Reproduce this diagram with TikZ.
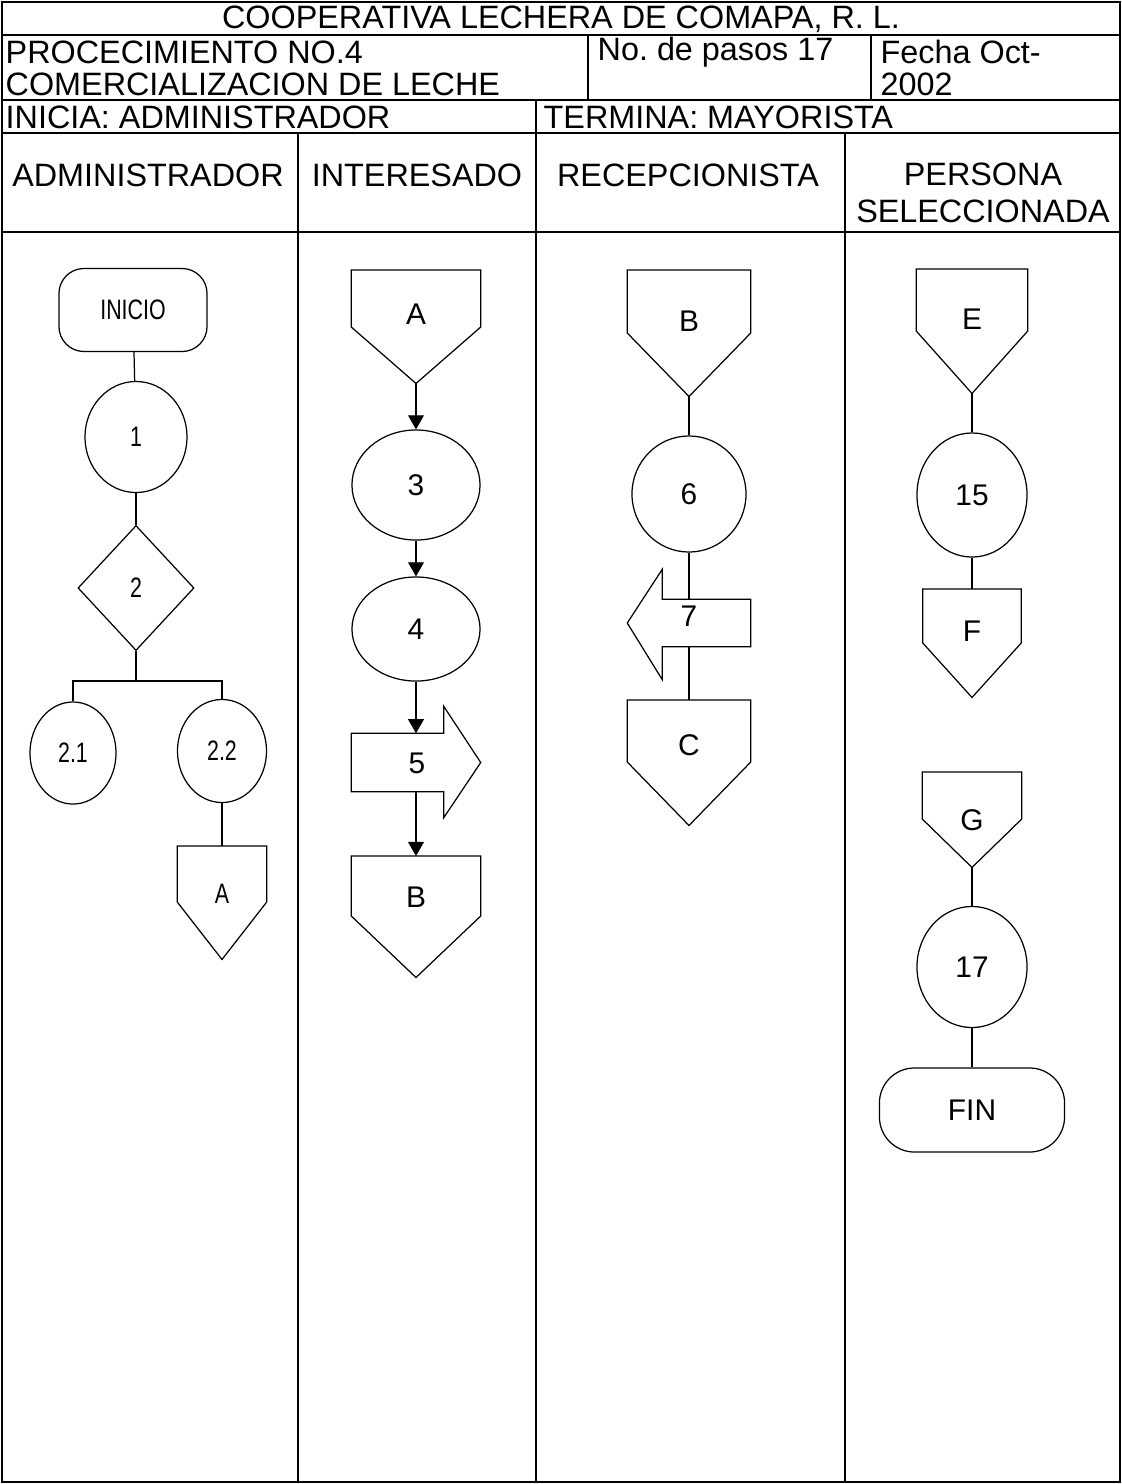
\documentclass[tikz,border=0pt]{standalone}
\usepackage{fontspec}
\usepackage{graphicx}
\setmainfont{Liberation Sans}
\usetikzlibrary{shapes.geometric,arrows.meta,calc}
\frenchspacing
\newcommand{\nar}[1]{\scalebox{0.76}[1]{#1}}

\begin{document}
\begin{tikzpicture}[x=0.01cm, y=-0.01cm,
    grid/.style={line width=0.6pt},
    shp/.style={draw, line width=0.35pt},
    proc/.style={shp, ellipse, inner sep=0pt},
    term/.style={shp, rectangle, rounded corners=0.25cm, inner sep=0pt},
    con/.style={rectangle, inner sep=0pt, anchor=north, text depth=7pt},
    flow/.style={line width=0.35pt},
    arr/.style={flow, -{Triangle[length=4pt,width=4.5pt]}},
    hd/.style={font=\fontsize{9.2}{10.5}\selectfont, inner sep=0pt},
    sm/.style={font=\fontsize{8}{9}\selectfont},
    lb/.style={font=\fontsize{8.5}{10}\selectfont}]
    \useasboundingbox (0,0) rectangle (1122,1484);
    % table
    \draw[grid] (2,2) rectangle (1120,1482);
    \draw[grid] (2,35) -- (1120,35);
    \draw[grid] (2,100) -- (1120,100);
    \draw[grid] (2,133) -- (1120,133);
    \draw[grid] (2,232) -- (1120,232);
    \draw[grid] (588,35) -- (588,100);
    \draw[grid] (871,35) -- (871,100);
    \draw[grid] (536,100) -- (536,1482);
    \draw[grid] (298,133) -- (298,1482);
    \draw[grid] (845,133) -- (845,1482);
    \node (title) [hd] at (561,19) {COOPERATIVA LECHERA DE COMAPA, R. L.};
    \node (hproc) [hd, anchor=west] at (5,52) {PROCECIMIENTO NO.4};
    \node (hcom) [hd, anchor=west] at (5,84) {COMERCIALIZACION DE LECHE};
    \node (hpasos) [hd, anchor=west] at (597,52) {No. de pasos 17};
    \node (hfecha) [hd, anchor=west] at (880,52) {Fecha Oct-};
    \node (hyear) [hd, anchor=west] at (880,84) {2002};
    \node (hini) [hd, anchor=west] at (5,117) {INICIA: ADMINISTRADOR};
    \node (hter) [hd, anchor=west] at (543,117) {TERMINA: MAYORISTA};
    \node (ladm) [hd] at (148,175) {ADMINISTRADOR};
    \node (lint) [hd] at (417,175) {INTERESADO};
    \node (lrec) [hd] at (688,175) {RECEPCIONISTA};
    \node (lper) [hd, align=center] at (983,193) {PERSONA\\SELECCIONADA};

    % administrador
    \node (inicio) [term, sm, minimum width=1.48cm, minimum height=0.83cm] at (133,310) {\nar{INICIO}};
    \node (p1) [proc, sm, minimum width=1.02cm, minimum height=1.11cm] at (136,437) {\nar{1}};
    \node (d2) [shp, diamond, sm, inner sep=0pt, minimum width=1.16cm, minimum height=1.25cm] at (136,588) {\nar{2}};
    \coordinate (split) at (136,681);
    \node (p21) [proc, sm, minimum width=0.86cm, minimum height=1.02cm] at (73,753) {\nar{2.1}};
    \node (p22) [proc, sm, minimum width=0.89cm, minimum height=1.03cm] at (222,751) {\nar{2.2}};
    \node (ca1) [con, sm, minimum width=0.88cm, minimum height=1.12cm, text depth=5pt] at (222,846) {\nar{A}};
    \draw[shp] (ca1.north west) -- (ca1.north east) -- ++(0,56) -- (ca1.south) -- ($(ca1.north west)+(0,56)$) -- cycle;
    \draw[flow] (inicio) -- (p1);
    \draw[flow] (p1) -- (d2);
    \draw[flow] (d2) -- (split);
    \draw[flow] (split) -| (p21);
    \draw[flow] (split) -| (p22);
    \draw[flow] (p22) -- (ca1);

    % interesado
    \node (ca2) [con, lb, minimum width=1.28cm, minimum height=1.12cm] at (416,270) {A};
    \draw[shp] (ca2.north west) -- (ca2.north east) -- ++(0,57) -- (ca2.south) -- ($(ca2.north west)+(0,57)$) -- cycle;
    \node (p3) [proc, lb, minimum width=1.28cm, minimum height=1.10cm] at (416,485) {3};
    \node (p4) [proc, lb, minimum width=1.28cm, minimum height=1.04cm] at (416,629) {4};
    \node (a5) [inner sep=0pt, minimum width=0.91cm, minimum height=0.57cm] at (397.5,762.5) {};
    \draw[shp] (a5.north west) -- (a5.north east) -- ++(0,-27) -- ($(a5.east)+(37,0)$) -- ($(a5.south east)+(0,26)$) -- (a5.south east) -- (a5.south west) -- cycle;
    \node (t5) [lb] at (417,763) {5};
    \node (cb2) [con, lb, minimum width=1.28cm, minimum height=1.20cm, text depth=11pt] at (416,856) {B};
    \draw[shp] (cb2.north west) -- (cb2.north east) -- ++(0,60) -- (cb2.south) -- ($(cb2.north west)+(0,60)$) -- cycle;
    \draw[arr] (ca2) -- (p3);
    \draw[arr] (p3) -- (p4);
    \draw[arr] (p4) -- (p4.south |- a5.north);
    \draw[arr] (p4.south |- a5.south) -- (cb2);

    % recepcionista
    \node (cb3) [con, lb, minimum width=1.22cm, minimum height=1.25cm] at (689,270) {B};
    \draw[shp] (cb3.north west) -- (cb3.north east) -- ++(0,63) -- (cb3.south) -- ($(cb3.north west)+(0,63)$) -- cycle;
    \node (p6) [proc, lb, minimum width=1.14cm, minimum height=1.16cm] at (689,494) {6};
    \node (a7) [inner sep=0pt, minimum width=0.87cm, minimum height=0.46cm] at (706.5,623) {};
    \draw[shp] (a7.north east) -- (a7.north west) -- ++(0,-30) -- ($(a7.west)+(-35,0)$) -- ($(a7.south west)+(0,33)$) -- (a7.south west) -- (a7.south east) -- cycle;
    \node (t7) [lb] at (689,616) {7};
    \node (cc3) [con, lb, minimum width=1.22cm, minimum height=1.24cm, text depth=10pt] at (689,700) {C};
    \draw[shp] (cc3.north west) -- (cc3.north east) -- ++(0,62) -- (cc3.south) -- ($(cc3.north west)+(0,62)$) -- cycle;
    \draw[flow] (cb3) -- (p6);
    \draw[flow] (p6) -- (p6.south |- a7.north);
    \draw[flow] (p6.south |- a7.south) -- (cc3);

    % persona seleccionada
    \node (ce4) [con, lb, minimum width=1.10cm, minimum height=1.23cm] at (972,269) {E};
    \draw[shp] (ce4.north west) -- (ce4.north east) -- ++(0,62) -- (ce4.south) -- ($(ce4.north west)+(0,62)$) -- cycle;
    \node (p15) [proc, lb, minimum width=1.10cm, minimum height=1.24cm] at (972,495) {15};
    \node (cf4) [con, lb, minimum width=0.97cm, minimum height=1.07cm] at (972,589) {F};
    \draw[shp] (cf4.north west) -- (cf4.north east) -- ++(0,54) -- (cf4.south) -- ($(cf4.north west)+(0,54)$) -- cycle;
    \node (cg4) [con, lb, minimum width=0.98cm, minimum height=0.94cm, text depth=0pt] at (972,772) {G};
    \draw[shp] (cg4.north west) -- (cg4.north east) -- ++(0,47) -- (cg4.south) -- ($(cg4.north west)+(0,47)$) -- cycle;
    \node (p17) [proc, lb, minimum width=1.10cm, minimum height=1.21cm] at (972,967) {17};
    \node (fin) [term, lb, rounded corners=0.35cm, minimum width=1.85cm, minimum height=0.84cm] at (972,1110) {FIN};
    \draw[flow] (ce4) -- (p15);
    \draw[flow] (p15) -- (cf4);
    \draw[flow] (cg4) -- (p17);
    \draw[flow] (p17) -- (fin);
\end{tikzpicture}
\end{document}
